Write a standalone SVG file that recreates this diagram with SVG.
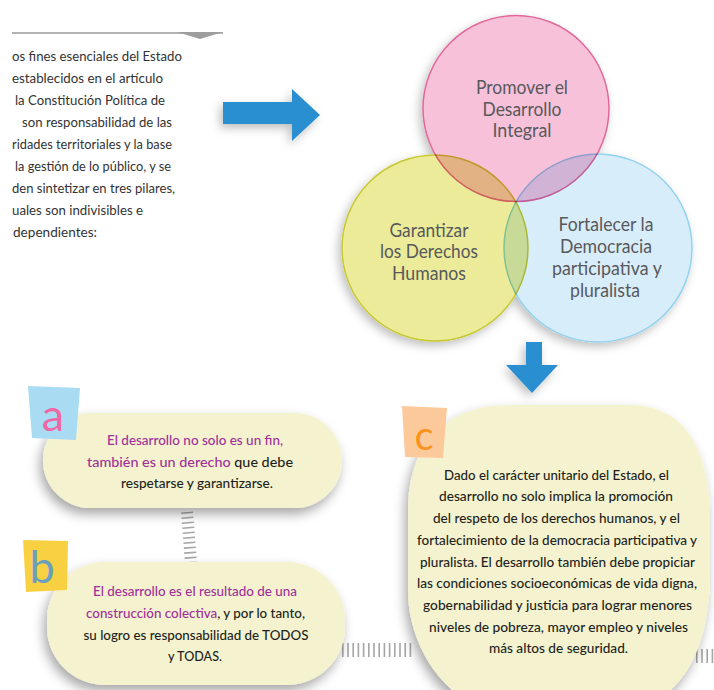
<svg xmlns="http://www.w3.org/2000/svg" width="714" height="690" viewBox="0 0 714 690">
<defs>
<style>
.t{font-family:Lato,"Liberation Sans",sans-serif}
.lt{font-size:14px;fill:#333}
.ct{font-size:18.5px;fill:#58595b;text-anchor:middle}
.bt{font-size:14px;fill:#231f20;text-anchor:middle;font-weight:500}
.pu{fill:#a0309a}
.box{fill:#f5f3cf}
.arrow{fill:#2b8fd1}
.hatch{fill:none;stroke:#a5a5a5}
.circ{mix-blend-mode:multiply;stroke-width:1.5}
.lbl{font-family:Lato,"Liberation Sans",sans-serif;text-anchor:middle}
</style>
<filter id="sh" x="-20%" y="-20%" width="140%" height="150%">
<feDropShadow dx="-3" dy="6" stdDeviation="6" flood-color="#000" flood-opacity="0.35"/>
</filter>
<filter id="sh2" x="-20%" y="-20%" width="140%" height="140%">
<feDropShadow dx="-3" dy="4" stdDeviation="5" flood-color="#000" flood-opacity="0.25"/>
</filter>
</defs>
<rect width="714" height="690" fill="#fff"/>

<g id="topbar">
<line x1="12" y1="33" x2="223" y2="33" stroke="#b3b3b3" stroke-width="2"/>
<polygon points="177,32 223,32 200,39" fill="#9d9d9d"/>
</g>

<g id="intro-text" class="t lt">
<text x="12" y="61" textLength="170" lengthAdjust="spacingAndGlyphs">os fines esenciales del Estado</text>
<text x="12" y="83" textLength="151" lengthAdjust="spacingAndGlyphs">establecidos en el artículo</text>
<text x="15" y="105" textLength="150" lengthAdjust="spacingAndGlyphs">la Constitución Política de</text>
<text x="22" y="127" textLength="150" lengthAdjust="spacingAndGlyphs">son responsabilidad de las</text>
<text x="12" y="149" textLength="160" lengthAdjust="spacingAndGlyphs">ridades territoriales y la base</text>
<text x="15" y="171" textLength="156" lengthAdjust="spacingAndGlyphs">la gestión de lo público, y se</text>
<text x="12" y="193" textLength="163" lengthAdjust="spacingAndGlyphs">den sintetizar en tres pilares,</text>
<text x="12" y="215" textLength="131" lengthAdjust="spacingAndGlyphs">uales son indivisibles e</text>
<text x="13" y="237" textLength="84" lengthAdjust="spacingAndGlyphs">dependientes:</text>
</g>

<g id="connectors">
<polygon id="arrow-right" class="arrow" filter="url(#sh2)" points="223,102 292,102 292,89 320,115 292,141 292,124 223,124"/>
<polygon id="arrow-down" class="arrow" filter="url(#sh2)" points="526,342 542,342 542,365 558,365 532,393 506,365 526,365"/>
<path class="hatch" d="M187,512 L191,562" stroke-width="12" stroke-dasharray="1.6 3.4"/>
<path class="hatch" d="M342,650 L414,650" stroke-width="14" stroke-dasharray="1.6 3.6"/>
<path class="hatch" d="M696,656 L714,656" stroke-width="14" stroke-dasharray="1.6 3.6"/>
</g>

<g id="circles" filter="url(#sh2)">
<circle class="circ" cx="516" cy="108.5" r="93" fill="#f7c1da" stroke="#e2679a"/>
<circle class="circ" cx="435" cy="248" r="93" fill="#ebeb9a" stroke="#c8c833"/>
<circle class="circ" cx="598" cy="248" r="94" fill="#d8edfa" stroke="#93d2ef"/>
</g>

<g id="pilar-desarrollo" class="t ct">
<text x="522" y="94" textLength="92" lengthAdjust="spacingAndGlyphs">Promover el</text>
<text x="522" y="116" textLength="79" lengthAdjust="spacingAndGlyphs">Desarrollo</text>
<text x="522" y="137" textLength="59" lengthAdjust="spacingAndGlyphs">Integral</text>
</g>
<g id="pilar-derechos" class="t ct">
<text x="429" y="237" textLength="79" lengthAdjust="spacingAndGlyphs">Garantizar</text>
<text x="429" y="258" textLength="98" lengthAdjust="spacingAndGlyphs">los Derechos</text>
<text x="429" y="280" textLength="74" lengthAdjust="spacingAndGlyphs">Humanos</text>
</g>
<g id="pilar-democracia" class="t ct">
<text x="606" y="231" textLength="95" lengthAdjust="spacingAndGlyphs">Fortalecer la</text>
<text x="606" y="253" textLength="92" lengthAdjust="spacingAndGlyphs">Democracia</text>
<text x="607" y="275" textLength="110" lengthAdjust="spacingAndGlyphs">participativa y</text>
<text x="605" y="297" textLength="70" lengthAdjust="spacingAndGlyphs">pluralista</text>
</g>

<g id="box-a">
<rect class="box" filter="url(#sh)" x="43" y="413" width="299" height="95" rx="47.5"/>
<polygon points="28,386 80,388 76,440 32,438" fill="#a9dcf3"/>
<text class="lbl" x="53" y="431" font-size="45" fill="#ef67a5">a</text>
<g class="t bt">
<text class="pu" x="195" y="445" textLength="176" lengthAdjust="spacingAndGlyphs">El desarrollo no solo es un fin,</text>
<text x="190" y="467" textLength="206" lengthAdjust="spacingAndGlyphs"><tspan class="pu">también es un derecho</tspan> que debe</text>
<text x="197" y="488" textLength="152" lengthAdjust="spacingAndGlyphs">respetarse y garantizarse.</text>
</g>
</g>

<g id="box-b">
<rect class="box" filter="url(#sh)" x="47" y="562" width="298" height="123" rx="58"/>
<polygon points="23,540 68,541 67,590 26,592" fill="#f8d142"/>
<text class="lbl" x="42" y="583" font-size="45" fill="#6a9fc0">b</text>
<g class="t bt">
<text class="pu" x="195" y="596" textLength="204" lengthAdjust="spacingAndGlyphs">El desarrollo es el resultado de una</text>
<text x="195.5" y="618" textLength="219" lengthAdjust="spacingAndGlyphs"><tspan class="pu">construcción colectiva</tspan>, y por lo tanto,</text>
<text x="196" y="640" textLength="225" lengthAdjust="spacingAndGlyphs">su logro es responsabilidad de TODOS</text>
<text x="195" y="661" textLength="54" lengthAdjust="spacingAndGlyphs">y TODAS.</text>
</g>
</g>

<g id="box-c">
<path class="box" filter="url(#sh)" d="M510 405 H630 C685 405 710 450 710 520 V570 C710 640 690 700 620 715 H520 C450 715 408 650 408 590 V510 C408 450 440 405 510 405 Z"/>
<polygon points="402,406 447,408 443,458 405,457" fill="#fcc99b"/>
<text class="lbl" x="424" y="450" font-size="40" fill="#f7941e">c</text>
<g class="t bt">
<text x="556.5" y="480" textLength="225" lengthAdjust="spacingAndGlyphs">Dado el carácter unitario del Estado, el</text>
<text x="556" y="501" textLength="234" lengthAdjust="spacingAndGlyphs">desarrollo no solo implica la promoción</text>
<text x="556.5" y="523" textLength="247" lengthAdjust="spacingAndGlyphs">del respeto de los derechos humanos, y el</text>
<text x="557" y="545" textLength="280" lengthAdjust="spacingAndGlyphs">fortalecimiento de la democracia participativa y</text>
<text x="557.5" y="567" textLength="275" lengthAdjust="spacingAndGlyphs">pluralista. El desarrollo también debe propiciar</text>
<text x="557" y="588" textLength="280" lengthAdjust="spacingAndGlyphs">las condiciones socioeconómicas de vida digna,</text>
<text x="557.5" y="610" textLength="269" lengthAdjust="spacingAndGlyphs">gobernabilidad y justicia para lograr menores</text>
<text x="558.5" y="632" textLength="259" lengthAdjust="spacingAndGlyphs">niveles de pobreza,  mayor empleo y niveles</text>
<text x="558.5" y="653" textLength="139" lengthAdjust="spacingAndGlyphs">más altos de seguridad.</text>
</g>
</g>
</svg>
